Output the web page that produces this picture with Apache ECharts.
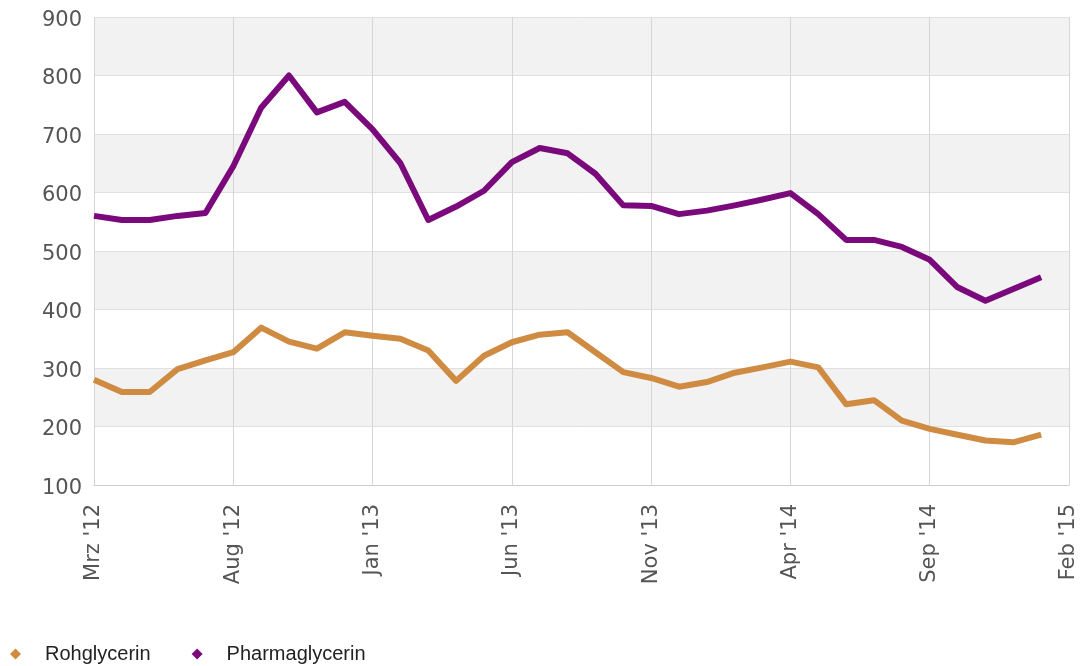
<!DOCTYPE html>
<html>
<head>
<meta charset="utf-8">
<title>Glycerinpreise</title>
<script src="https://cdn.jsdelivr.net/npm/echarts@6/dist/echarts.min.js"></script>
<style>
  html, body { margin: 0; padding: 0; background: #ffffff; }
  #chart { width: 1080px; height: 666px; }
</style>
</head>
<body>
<div id="chart"></div>
<script>
// Monthly prices, March 2012 to January 2015
const months = [
  "Mrz '12", "Apr '12", "Mai '12", "Jun '12", "Jul '12", "Aug '12", "Sep '12", "Okt '12", "Nov '12", "Dez '12",
  "Jan '13", "Feb '13", "Mrz '13", "Apr '13", "Mai '13", "Jun '13", "Jul '13", "Aug '13", "Sep '13", "Okt '13",
  "Nov '13", "Dez '13", "Jan '14", "Feb '14", "Mrz '14", "Apr '14", "Mai '14", "Jun '14", "Jul '14", "Aug '14",
  "Sep '14", "Okt '14", "Nov '14", "Dez '14", "Jan '15"
];
const rohglycerin = [
  280, 259, 259, 298, 313, 327, 369, 345, 333, 361,
  355, 350, 330, 278, 321, 344, 357, 361, 327, 293,
  283, 268, 276, 292, 301, 311, 301, 238, 245, 210,
  196, 186, 176, 173, 186
];
const pharmaglycerin = [
  560, 553, 553, 560, 565, 645, 745, 800, 737, 755,
  708, 650, 553, 576, 603, 652, 676, 667, 632, 578,
  577, 563, 569, 578, 588, 599, 563, 519, 519, 507,
  485, 438, 415, 435, 455
];
// x-axis tick labels, one every five months
const tickLabels = ["Mrz '12", "Aug '12", "Jan '13", "Jun '13", "Nov '13", "Apr '14", "Sep '14", "Feb '15"];

const toPoints = (vals) => vals.map((v, i) => [i, v]);

const chart = echarts.init(document.getElementById('chart'), null, { renderer: 'canvas' });
chart.setOption({
  animation: false,
  backgroundColor: '#ffffff',
  grid: { left: 94, right: 11, top: 17, bottom: 181, containLabel: false },
  legend: {
    left: 5,
    top: 639,
    itemWidth: 11,
    itemHeight: 11,
    itemGap: 41,
    icon: 'diamond',
    textStyle: {
      fontFamily: 'Liberation Sans, Arial, sans-serif',
      fontSize: 20,
      color: '#222222',
      padding: [0, 0, 0, 19]
    },
    data: ['Rohglycerin', 'Pharmaglycerin']
  },
  xAxis: {
    type: 'value',
    min: 0,
    max: 35,
    interval: 5,
    axisLine: { show: true, lineStyle: { color: '#cccccc', width: 1 } },
    axisTick: { show: false },
    splitLine: { show: true, lineStyle: { color: '#d6d6d6', width: 1 } },
    axisLabel: {
      rotate: 90,
      margin: 19,
      fontFamily: 'DejaVu Sans, sans-serif',
      fontSize: 21,
      color: '#555555',
      showMinLabel: true,
      showMaxLabel: true,
      formatter: (v) => tickLabels[Math.round(v / 5)] || ''
    }
  },
  yAxis: {
    type: 'value',
    min: 100,
    max: 900,
    interval: 100,
    axisLine: { show: false },
    axisTick: { show: false },
    splitLine: { show: true, lineStyle: { color: '#e0e0e0', width: 1 } },
    splitArea: { show: true, areaStyle: { color: ['#ffffff', '#f2f2f2'] } },
    axisLabel: {
      margin: 12,
      formatter: (v) => '{n|' + v + '}',
      rich: {
        n: {
          padding: [7, 0, 0, 0],
          fontFamily: 'DejaVu Sans, sans-serif',
          fontSize: 21,
          color: '#555555'
        }
      }
    }
  },
  series: [
    {
      name: 'Rohglycerin',
      type: 'line',
      data: toPoints(rohglycerin),
      showSymbol: false,
      symbol: 'diamond',
      itemStyle: { color: '#d08b43' },
      lineStyle: { color: '#d08b43', width: 6, join: 'round' },
      z: 3
    },
    {
      name: 'Pharmaglycerin',
      type: 'line',
      data: toPoints(pharmaglycerin),
      showSymbol: false,
      symbol: 'diamond',
      itemStyle: { color: '#7a0a7c' },
      lineStyle: { color: '#7a0a7c', width: 6, join: 'round' },
      z: 4
    }
  ]
});
</script>
</body>
</html>
